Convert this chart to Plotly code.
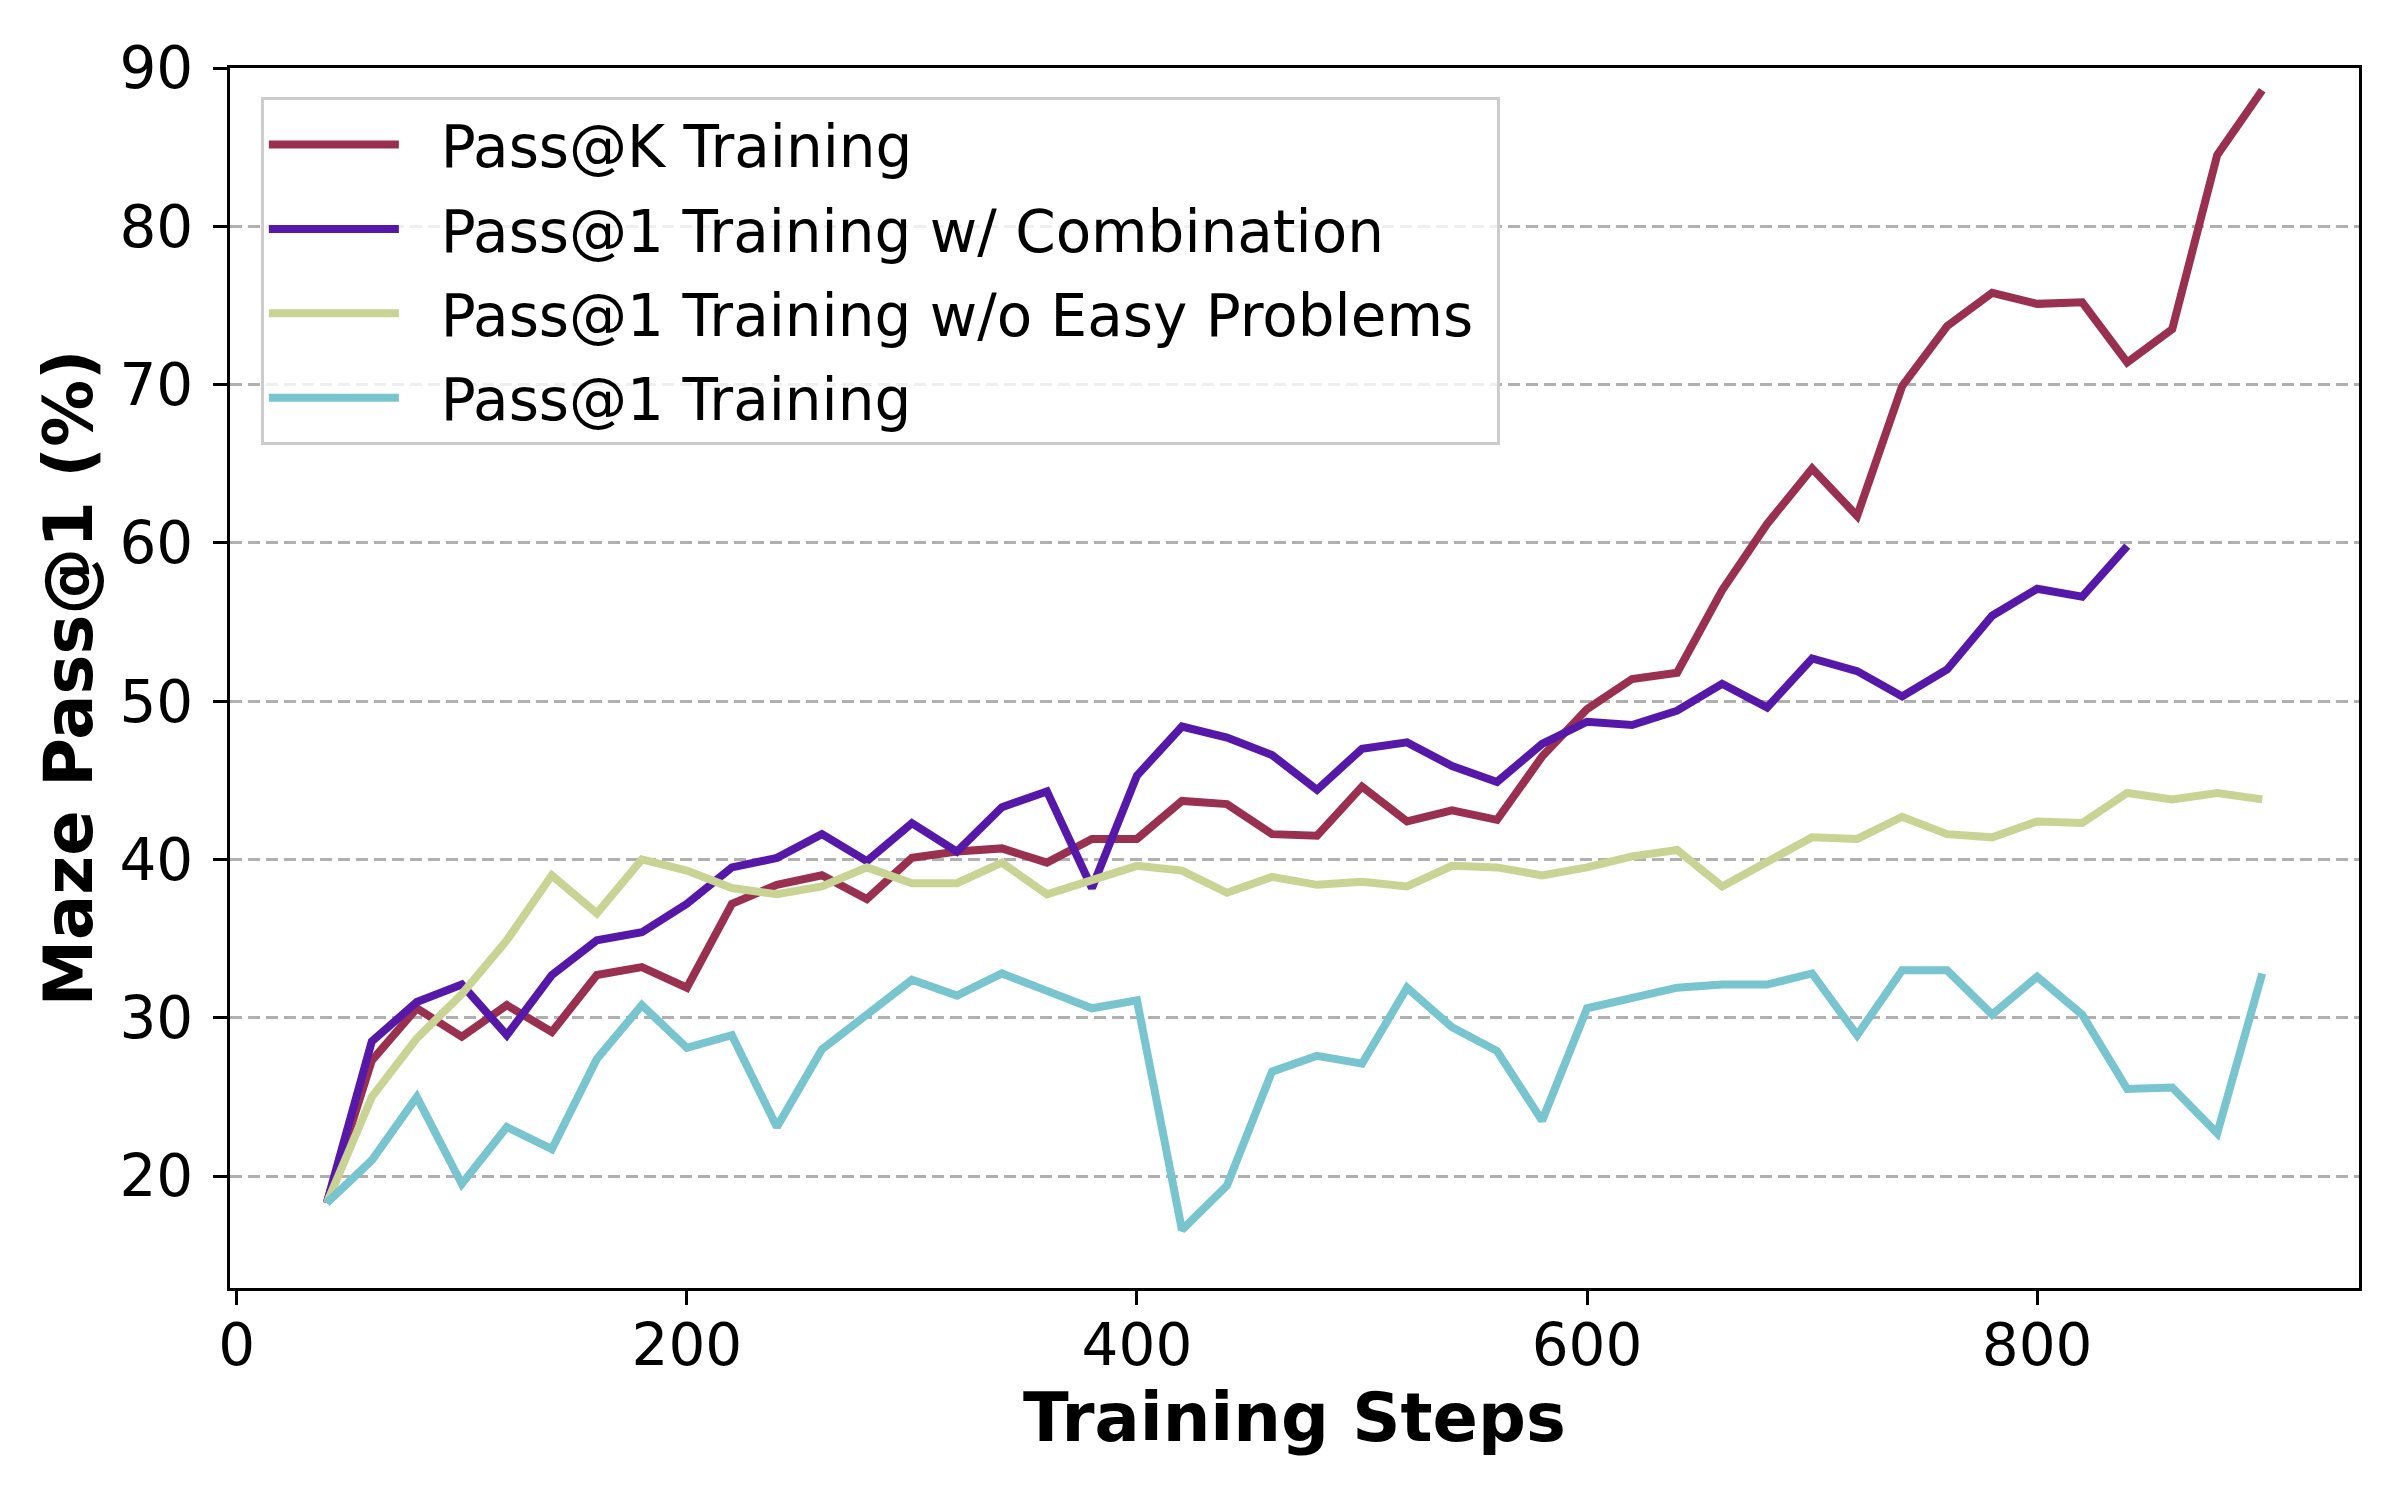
import plotly.graph_objects as go

steps = [40, 60, 80, 100, 120, 140, 160, 180, 200, 220,
         240, 260, 280, 300, 320, 340, 360, 380, 400, 420,
         440, 460, 480, 500, 520, 540, 560, 580, 600, 620,
         640, 660, 680, 700, 720, 740, 760, 780, 800, 820,
         840, 860, 880, 900]

pass_k = [18.3, 27.3, 30.6, 28.8, 30.8, 29.1, 32.7, 33.2, 31.9, 37.2,
          38.4, 39.0, 37.5, 40.1, 40.5, 40.7, 39.8, 41.3, 41.3, 43.7,
          43.5, 41.6, 41.5, 44.6, 42.4, 43.1, 42.5, 46.5, 49.5, 51.4,
          51.8, 57.0, 61.2, 64.7, 61.7, 69.9, 73.7, 75.8, 75.1, 75.2,
          71.4, 73.5, 84.5, 88.6]

pass1_comb = [18.3, 28.5, 31.0, 32.1, 28.9, 32.7, 34.9, 35.4, 37.2, 39.5,
              40.1, 41.6, 39.9, 42.3, 40.5, 43.3, 44.3, 38.2, 45.3, 48.4,
              47.7, 46.6, 44.4, 47.0, 47.4, 45.9, 44.9, 47.3, 48.7, 48.5,
              49.4, 51.1, 49.6, 52.7, 51.9, 50.3, 52.0, 55.4, 57.1, 56.6,
              59.8]

pass1_no_easy = [18.3, 25.0, 28.7, 31.5, 34.9, 39.0, 36.6, 40.0, 39.3, 38.2,
                 37.8, 38.3, 39.5, 38.5, 38.5, 39.8, 37.8, 38.7, 39.6, 39.3,
                 37.9, 38.9, 38.4, 38.6, 38.3, 39.6, 39.5, 39.0, 39.5, 40.2,
                 40.6, 38.3, 39.8, 41.4, 41.3, 42.7, 41.6, 41.4, 42.4, 42.3,
                 44.2, 43.8, 44.2, 43.8]

pass1 = [18.3, 21.0, 25.0, 19.5, 23.1, 21.7, 27.4, 30.8, 28.1, 28.9,
         23.1, 28.0, 30.2, 32.4, 31.4, 32.8, 31.7, 30.6, 31.1, 16.6,
         19.4, 26.6, 27.6, 27.1, 31.9, 29.4, 27.9, 23.5, 30.6, 31.2,
         31.9, 32.1, 32.1, 32.8, 28.9, 33.0, 33.0, 30.2, 32.6, 30.2,
         25.5, 25.6, 22.7, 32.8]

series_names = ["Pass@K Training", "Pass@1 Training w/ Combination",
                "Pass@1 Training w/o Easy Problems", "Pass@1 Training"]
series_values = [pass_k, pass1_comb, pass1_no_easy, pass1]
series_colors = ["#9a3050", "#5518a8", "#c9d394", "#78c4cf"]

x_ticks = [0, 200, 400, 600, 800]
y_ticks = [20, 30, 40, 50, 60, 70, 80, 90]

FONT = "DejaVu Sans"
NBSP = "\u00a0"

fig = go.Figure()
for i, (name, vals, color) in enumerate(zip(series_names, series_values, series_colors)):
    fig.add_trace(go.Scatter(
        x=steps[:len(vals)], y=vals, mode="lines",
        name=NBSP * 2 + name + NBSP,
        legendgroup=f"g{i}",
        line=dict(color=color, width=8),
    ))

axis_common = dict(
    showline=True, linecolor="black", linewidth=3.3, mirror=True,
    ticks="outside", ticklen=14, tickwidth=3.3, tickcolor="black",
    tickfont=dict(family=FONT, size=58, color="black"),
    zeroline=False,
)

fig.update_layout(
    width=2400, height=1500,
    margin=dict(l=230, r=41, t=68, b=212, autoexpand=False),
    paper_bgcolor="white", plot_bgcolor="white",
    font=dict(family=FONT, color="black"),
    xaxis=dict(
        range=[-3, 943], tickvals=x_ticks, showgrid=False,
        title=dict(text="Training Steps", standoff=8,
                   font=dict(family=FONT, size=67, weight="bold", color="black")),
        ticklabelstandoff=-10,
        **axis_common,
    ),
    yaxis=dict(
        range=[12.93, 90], tickvals=y_ticks,
        showgrid=True, gridcolor="#b0b0b0", gridwidth=2.7, griddash="12px,6px",
        title=dict(text="Maze Pass@1 (%)", standoff=5,
                   font=dict(family=FONT, size=67, weight="bold", color="black")),
        ticklabelstandoff=8,
        **axis_common,
    ),
    legend=dict(
        x=0.0145, y=0.976, xanchor="left", yanchor="top",
        bgcolor="rgba(255,255,255,0.8)", bordercolor="#cccccc", borderwidth=3,
        font=dict(family=FONT, size=58, color="black"),
        itemwidth=130, traceorder="grouped", tracegroupgap=6,
    ),
    showlegend=True,
)

fig.write_html("out.html", config={"displayModeBar": False},
               post_script="document.body.style.margin='0';")
